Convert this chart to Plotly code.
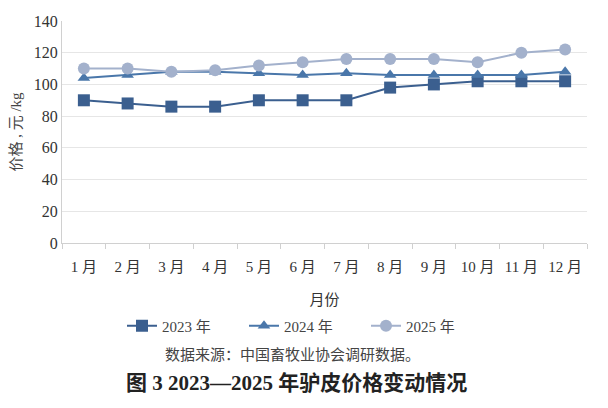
import plotly.graph_objects as go

months = ["1 月", "2 月", "3 月", "4 月", "5 月", "6 月", "7 月", "8 月", "9 月", "10 月", "11 月", "12 月"]
price_2023 = [90, 88, 86, 86, 90, 90, 90, 98, 100, 102, 102, 102]
price_2024 = [104, 106, 108, 108, 107, 106, 107, 106, 106, 106, 106, 108]
price_2025 = [110, 110, 108, 109, 112, 114, 116, 116, 116, 114, 120, 122]
y_ticks = [0, 20, 40, 60, 80, 100, 120, 140]

FONT = "Liberation Serif, Noto Sans CJK SC, serif"

W, H = 608, 408
L, R, T, B = 62, 21, 21, 165
plot_h = H - T - B


def py(pix):
    """pixel y (from top) -> paper y"""
    return (T + plot_h - pix) / plot_h


def px(pix):
    return (pix - L) / (W - L - R)


fig = go.Figure()
fig.add_trace(go.Scatter(x=months, y=price_2023, name="2023 年", mode="lines+markers",
                         line=dict(color="#3b5f8f", width=2),
                         marker=dict(symbol="square", size=12, color="#3b5f8f")))
fig.add_trace(go.Scatter(x=months, y=price_2024, name="2024 年", mode="lines+markers",
                         line=dict(color="#4a77aa", width=2),
                         marker=dict(symbol="triangle-up", size=11, color="#4a77aa")))
fig.add_trace(go.Scatter(x=months, y=price_2025, name="2025 年", mode="lines+markers",
                         line=dict(color="#a3b1cc", width=2),
                         marker=dict(symbol="circle", size=12, color="#a3b1cc")))

fig.update_layout(
    width=W, height=H,
    margin=dict(l=L, r=R, t=T, b=B, autoexpand=False),
    paper_bgcolor="white", plot_bgcolor="white",
    font=dict(family=FONT, color="#333333", size=13),
    showlegend=True,
    legend=dict(orientation="h", x=px(122), xanchor="left", y=py(326), yanchor="middle",
                font=dict(size=15, family=FONT, color="#444444"),
                entrywidth=77, entrywidthmode="pixels"),
    xaxis=dict(type="category", showgrid=False, showline=True, linecolor="#d0d0d0",
               ticks="outside", tickson="boundaries", ticklen=5, tickcolor="#d0d0d0",
               tickfont=dict(size=15, family=FONT, color="#333333"),
               ticklabelstandoff=10,
               title=dict(text="月份", font=dict(size=15, family=FONT, color="#333333"), standoff=20),
               range=[-0.5, 11.5]),
    yaxis=dict(range=[0, 140], tickvals=y_ticks, showgrid=True, gridcolor="#e6e6e6",
               showline=True, linecolor="#d0d0d0", zeroline=False,
               tickfont=dict(size=16, family=FONT, color="#333333"),
               title=dict(text="价格 , 元 /kg", font=dict(size=15, family=FONT, color="#444444"), standoff=8)),
    annotations=[
        dict(text="数据来源：中国畜牧业协会调研数据。", x=px(292), xref="paper", xanchor="center",
             y=py(355), yref="paper", yanchor="middle", showarrow=False,
             font=dict(size=15, family=FONT, color="#444444")),
        dict(text="<b>图 3 2023—2025 年驴皮价格变动情况</b>", x=px(296), xref="paper", xanchor="center",
             y=py(383), yref="paper", yanchor="middle", showarrow=False,
             font=dict(size=21, family=FONT, color="#222222")),
    ],
)

fig.write_html("out.html", config={"displayModeBar": False},
               post_script="document.body.style.margin='0';")
